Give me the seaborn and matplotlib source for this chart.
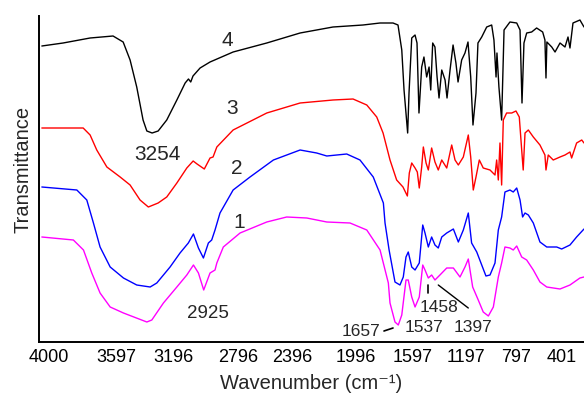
"""FTIR spectra of samples 1-4 (stacked transmittance curves)."""
import matplotlib

matplotlib.use("Agg")

import matplotlib.pyplot as plt  # noqa: E402
import matplotlib.transforms as mtransforms  # noqa: E402
import pandas as pd  # noqa: E402
import seaborn as sns  # noqa: E402

# --- data (wavenumber in cm-1, transmittance in a.u.) ---
wn_4 = [3982, 3841, 3662, 3510, 3443, 3397, 3353, 3311, 3286, 3251,
        3211, 3154, 3087, 3032, 3010, 2995, 2980, 2933, 2867, 2714,
        2491, 2270, 2052, 1853, 1740, 1654, 1621, 1596, 1581, 1557,
        1548, 1530, 1508, 1495, 1482, 1464, 1449, 1431, 1415, 1404,
        1391, 1376, 1362, 1349, 1331, 1309, 1296, 1276, 1256, 1237,
        1223, 1199, 1177, 1157, 1139, 1124, 1104, 1091, 1066, 1033,
        1000, 985, 971, 965, 952, 934, 918, 879, 834, 812,
        799, 786, 768, 735, 702, 662, 647, 640, 634, 602,
        580, 547, 514, 494, 481, 461, 415, 388]
t_4 = [296, 299, 304, 306, 300, 282, 255, 222, 211, 209,
       211, 222, 242, 259, 263, 260, 266, 274, 280, 290,
       299, 309, 315, 317, 319, 319, 317, 292, 252, 209,
       249, 304, 307, 299, 229, 275, 285, 265, 275, 252,
       299, 295, 265, 244, 272, 262, 244, 272, 297, 279,
       260, 282, 289, 300, 265, 217, 249, 299, 305, 315,
       317, 302, 265, 289, 255, 222, 312, 320, 319, 312,
       239, 299, 309, 310, 314, 310, 302, 264, 300, 295,
       290, 299, 295, 305, 294, 319, 322, 315]

wn_3 = [3982, 3708, 3662, 3618, 3551, 3463, 3397, 3331, 3276, 3211,
        3154, 3087, 3021, 2979, 2953, 2905, 2867, 2847, 2822, 2714,
        2491, 2270, 2052, 1919, 1828, 1762, 1720, 1674, 1630, 1588,
        1559, 1546, 1530, 1508, 1493, 1480, 1464, 1453, 1435, 1420,
        1398, 1376, 1354, 1331, 1298, 1265, 1243, 1221, 1188, 1155,
        1139, 1122, 1104, 1082, 1056, 1011, 978, 967, 956, 945,
        934, 923, 901, 867, 839, 817, 801, 791, 779, 757,
        724, 680, 647, 640, 625, 592, 547, 514, 481, 470,
        437, 403, 388]
t_3 = [214, 214, 207, 192, 175, 165, 157, 142, 135, 139,
       145, 159, 174, 181, 178, 173, 184, 185, 195, 212,
       229, 239, 242, 243, 237, 225, 209, 182, 162, 155,
       146, 169, 179, 174, 170, 154, 175, 195, 179, 172,
       194, 180, 172, 182, 174, 197, 182, 177, 185, 207,
       185, 152, 165, 182, 174, 172, 167, 182, 162, 199,
       157, 222, 229, 229, 231, 225, 192, 172, 209, 212,
       205, 197, 187, 172, 187, 182, 185, 187, 190, 184,
       199, 202, 199]

wn_2 = [3982, 3750, 3684, 3640, 3596, 3529, 3441, 3353, 3264, 3220,
        3132, 3066, 3011, 2977, 2944, 2911, 2878, 2856, 2834, 2801,
        2714, 2602, 2447, 2270, 2160, 2093, 1961, 1873, 1785, 1718,
        1707, 1680, 1641, 1608, 1586, 1568, 1553, 1530, 1508, 1480,
        1457, 1442, 1420, 1398, 1376, 1354, 1331, 1298, 1254, 1221,
        1188, 1155, 1133, 1099, 1066, 1038, 1011, 978, 956, 934,
        912, 879, 857, 834, 812, 795, 779, 757, 724, 680,
        635, 569, 536, 481, 437, 388]
t_2 = [155, 152, 142, 119, 95, 75, 64, 57, 55, 59,
       75, 89, 99, 108, 94, 84, 99, 102, 112, 129,
       152, 165, 182, 192, 189, 186, 188, 182, 165, 139,
       119, 92, 60, 57, 65, 85, 90, 75, 72, 79,
       117, 109, 95, 105, 97, 94, 105, 109, 113, 100,
       112, 129, 99, 90, 77, 66, 67, 79, 112, 125,
       150, 152, 150, 154, 142, 125, 129, 127, 119, 100,
       95, 95, 93, 97, 105, 113]

wn_1 = [3982, 3773, 3706, 3651, 3596, 3529, 3441, 3286, 3253, 3176,
        3087, 3021, 2977, 2944, 2909, 2867, 2834, 2822, 2779, 2668,
        2491, 2359, 2226, 2093, 1939, 1828, 1740, 1685, 1674, 1641,
        1619, 1596, 1568, 1553, 1530, 1508, 1480, 1457, 1442, 1420,
        1398, 1376, 1343, 1298, 1254, 1210, 1177, 1155, 1126, 1089,
        1056, 1022, 989, 956, 934, 912, 879, 857, 834, 801,
        768, 724, 680, 635, 547, 481, 415, 388]
t_1 = [105, 102, 92, 69, 49, 35, 29, 20, 22, 39,
       55, 67, 77, 69, 52, 69, 72, 79, 95, 109,
       120, 125, 124, 120, 119, 112, 92, 59, 39, 20,
       17, 27, 62, 62, 45, 35, 45, 77, 72, 64,
       67, 62, 67, 74, 74, 65, 75, 83, 55, 42,
       30, 26, 35, 65, 79, 95, 94, 92, 96, 85,
       82, 72, 60, 55, 53, 57, 64, 65]

samples = ["1", "2", "3", "4"]
colors = {"1": "#ff00ff", "2": "#0000ff", "3": "#ff0000", "4": "#000000"}

tick_values = [4000, 3597, 3196, 2796, 2396, 1996, 1597, 1197, 797, 401]
# the printed labels sit a little off their ticks in the original (pixels)
label_shift = [10, 16, 13, 17, 11, 14, 11, 4, -6, -20]

curve_labels = ["4", "3", "2", "1"]
curve_label_pos = [(2754, 302), (2721, 234), (2688, 174), (2675, 119)]

sns.set_style("white")
plt.rcParams["font.family"] = ["Liberation Sans", "DejaVu Sans"]

frames = []
for name, wn, t in [("1", wn_1, t_1), ("2", wn_2, t_2),
                    ("3", wn_3, t_3), ("4", wn_4, t_4)]:
    frames.append(pd.DataFrame({"wavenumber": wn, "transmittance": t,
                                "sample": name}))
df = pd.concat(frames, ignore_index=True)

fig = plt.figure(figsize=(5.84, 4.0), dpi=100)
ax = fig.add_axes([0.067, 0.145, 0.933, 0.815])

sns.lineplot(data=df, x="wavenumber", y="transmittance", hue="sample",
             hue_order=samples, palette=colors, estimator=None, sort=False,
             linewidth=1.0, legend=False, ax=ax)

ax.set_xlim(4000, 388)
ax.set_ylim(0, 326)
ax.set_xticks(tick_values)
ax.set_xticklabels([str(v) for v in tick_values])
ax.tick_params(axis="x", direction="in", length=4, width=1, labelsize=13,
               pad=5, colors="black")
ax.tick_params(axis="y", left=False, labelleft=False)
for lbl, dx in zip(ax.get_xticklabels(), label_shift):
    off = mtransforms.ScaledTranslation(dx / 100, 0, fig.dpi_scale_trans)
    lbl.set_transform(lbl.get_transform() + off)

for side in ["top", "right"]:
    ax.spines[side].set_visible(False)
for side in ["left", "bottom"]:
    ax.spines[side].set_linewidth(1.4)
    ax.spines[side].set_color("black")

ax.set_xlabel("Wavenumber (cm\u207b\u00b9)", fontsize=14.5, labelpad=6)
ax.set_ylabel("Transmittance", fontsize=14.5)
ax.yaxis.set_label_coords(-0.013, 0.53)

for lab, (x, y) in zip(curve_labels, curve_label_pos):
    ax.text(x, y, lab, fontsize=15, ha="center", va="center")

# peak annotations
ax.text(3218, 187, "3254", fontsize=15, ha="center", va="center")
ax.text(2880, 29, "2925", fontsize=13.5, ha="center", va="center")
ax.text(1866, 11, "1657", fontsize=12.5, ha="center", va="center")
ax.text(1449, 15, "1537", fontsize=12.5, ha="center", va="center")
ax.text(1127, 15, "1397", fontsize=12.5, ha="center", va="center")
ax.text(1349, 34, "1458", fontsize=12.5, ha="center", va="center")
ax.plot([1714, 1654], [11, 14], color="black", lw=1.2)
ax.plot([1424, 1424], [49, 57], color="black", lw=1.2)
ax.plot([1354, 1155], [57, 34], color="black", lw=1.0)

fig.savefig("out.png", dpi=100)
plt.close(fig)
